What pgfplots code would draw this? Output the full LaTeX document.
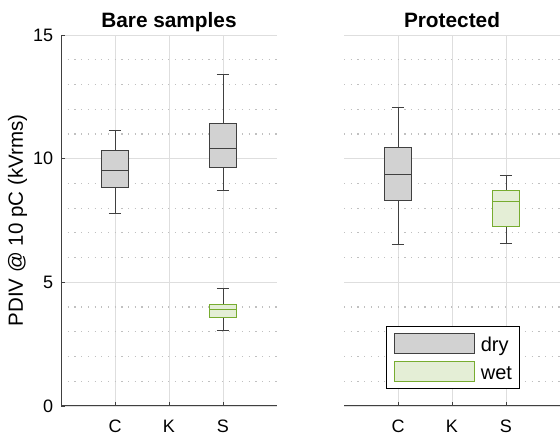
\documentclass[border=0pt]{standalone}
\usepackage{fontspec}
\setmainfont{Liberation Sans}
\usepackage{pgfplots}
\pgfplotsset{compat=1.18}
\usepgfplotslibrary{statistics}
\definecolor{edgegray}{RGB}{64,64,64}
\definecolor{dryfill}{RGB}{210,210,210}
\definecolor{wetedge}{RGB}{119,172,48}
\definecolor{wetfill}{RGB}{228,238,214}
\definecolor{gridmaj}{RGB}{222,222,222}
\definecolor{gridmin}{RGB}{192,192,192}
\pgfplotsset{
  panel/.style={
    scale only axis, width=216pt, height=371pt,
    xmin=0, xmax=4, ymin=0, ymax=15,
    xtick={1,2,3}, xticklabels={C,K,S},
    ytick={0,5,10,15},
    minor ytick={1,2,3,4,6,7,8,9,11,12,13,14},
    xmajorgrids, ymajorgrids, yminorgrids,
    major grid style={draw=gridmaj, line width=0.9pt},
    minor grid style={draw=gridmin, line width=1.2pt, dash pattern=on 1.2pt off 5.5pt},
    major tick length=4pt, minor tick length=0pt,
    tick align=inside,
    tick style={draw=edgegray, line width=0.9pt},
    axis x line*=bottom,
    axis line style={draw=edgegray, line width=1pt, -},
    tick label style={font=\fontsize{18}{20}\selectfont},
    /pgf/number format/assume math mode=true,
    xticklabel style={anchor=base, yshift=-27pt, inner sep=0pt},
    every axis title/.style={at={(0.5,1)}, anchor=base, yshift=7.7pt, font=\bfseries\fontsize{20.8}{24}\selectfont},
    boxplot/draw direction=y,
    boxplot/box extend=0.51, boxplot/whisker extend=0.23,
  },
  dry/.style={draw=edgegray, fill=dryfill, line width=1pt, solid},
  wet/.style={draw=wetedge, fill=wetfill, line width=1pt, solid},
  boxlegend/.style={legend image code/.code={\draw[##1] (0pt,-9.8pt) rectangle (79.6pt,9.8pt);}},
}
\begin{document}
\begin{tikzpicture}
\path[use as bounding box] (0,0) rectangle (560pt,439pt);
% Left panel
\begin{axis}[panel, at={(61pt,33pt)}, anchor=south west,
  axis y line*=left,
  title={Bare samples},
  ylabel={PDIV @ 10 pC (kVrms)},
  ylabel style={at={([xshift=-38pt]axis description cs:0,0.5)}, anchor=base, font=\fontsize{20.5}{24}\selectfont},
  yticklabel style={anchor=east, inner sep=0pt, xshift=-7.7pt},
]
\addplot[dry, forget plot, boxplot prepared={draw position=1,
  lower whisker=7.79, lower quartile=8.84, median=9.53,
  upper quartile=10.32, upper whisker=11.12}] coordinates {};
\addplot[dry, forget plot, boxplot prepared={draw position=3,
  lower whisker=8.71, lower quartile=9.64, median=10.41,
  upper quartile=11.42, upper whisker=13.40}] coordinates {};
\addplot[wet, forget plot, boxplot prepared={draw position=3,
  lower whisker=3.06, lower quartile=3.59, median=3.89,
  upper quartile=4.11, upper whisker=4.74,
  every whisker/.style={draw=edgegray}}] coordinates {};
\end{axis}
% Right panel
\begin{axis}[panel, at={(344pt,33pt)}, anchor=south west,
  axis y line*=left,
  y axis line style={draw=none},
  ytick style={draw=none},
  yticklabels={},
  title={Protected},
  legend cell align=left,
  legend style={at={(0.505,0.045)}, anchor=south, draw=black, line width=1pt,
    fill=white, font=\fontsize{20}{22}\selectfont,
    inner xsep=8pt, inner ysep=7pt, row sep=7.4pt, column sep=6pt,
    nodes={inner sep=0pt, text height=16pt, text depth=0pt}},
]
\addplot[dry, forget plot, boxplot prepared={draw position=1,
  lower whisker=6.52, lower quartile=8.30, median=9.37,
  upper quartile=10.47, upper whisker=12.08}] coordinates {};
\addplot[wet, forget plot, boxplot prepared={draw position=3,
  lower whisker=6.58, lower quartile=7.25, median=8.28,
  upper quartile=8.71, upper whisker=9.33,
  every whisker/.style={draw=edgegray}}] coordinates {};
\addlegendimage{dry, boxlegend}
\addlegendentry{dry}
\addlegendimage{wet, boxlegend}
\addlegendentry{wet}
\end{axis}
\end{tikzpicture}
\end{document}
